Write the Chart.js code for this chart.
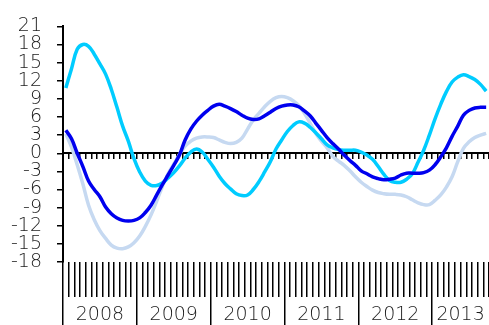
<!DOCTYPE html>
<html>
<head>
<meta charset="utf-8">
<script src="https://cdn.jsdelivr.net/npm/chart.js@4.4.1/dist/chart.umd.min.js"></script>
<style>
  html, body { margin: 0; padding: 0; background: #fff; }
  canvas { display: block; }
</style>
</head>
<body>
<canvas id="chart" width="489" height="325"></canvas>
<script>
// years on the axis and number of 4-week periods shown in each
const years = ['2008', '2009', '2010', '2011', '2012', '2013'];
const periodsPerYear = [13, 13, 13, 13, 13, 10];

// y axis ticks
const yMin = -18;
const yMax = 21;
const yStep = 3;

// series values, one per period
const darkBlue = [
  3.8, 2.4, 0.0, -2.2, -4.6, -6.0, -7.2, -8.9, -10.0, -10.7, -11.1, -11.2, -11.1,
  -10.7, -9.8, -8.6, -6.9, -5.2, -3.6, -2.0, -0.3, 2.2, 4.0, 5.3, 6.3, 7.1,
  7.8, 8.1, 7.8, 7.4, 6.9, 6.3, 5.8, 5.6, 5.7, 6.2, 6.8, 7.4, 7.8,
  8.0, 8.0, 7.7, 7.0, 6.2, 5.0, 3.8, 2.6, 1.6, 0.7, -0.3, -1.2, -2.0,
  -2.9, -3.4, -3.9, -4.2, -4.4, -4.3, -4.1, -3.6, -3.3, -3.3, -3.3, -3.2, -2.8,
  -1.9, -0.6, 0.9, 2.8, 4.5, 6.3, 7.1, 7.5, 7.6, 7.6
];
const cyan = [
  10.8, 14.0, 17.2, 18.0, 17.7, 16.4, 14.8, 13.1, 10.6, 7.6, 4.5, 2.0, -0.9,
  -3.1, -4.6, -5.3, -5.35, -4.9, -4.1, -3.2, -2.1, -0.8, 0.2, 0.7, 0.2, -1.0,
  -2.3, -3.8, -5.0, -5.9, -6.7, -7.0, -6.9, -6.0, -4.7, -3.1, -1.4, 0.7, 2.2,
  3.6, 4.6, 5.2, 5.0, 4.3, 3.4, 2.4, 1.4, 0.9, 0.6, 0.5, 0.5, 0.5,
  0.2, -0.3, -1.0, -2.2, -3.5, -4.5, -4.8, -4.8, -4.3, -3.4, -1.5, 0.5, 3.0,
  5.7, 8.1, 10.2, 11.8, 12.6, 13.0, 12.7, 12.2, 11.4, 10.3
];
const lightBlue = [
  3.2, 1.0, -1.9, -5.1, -8.6, -11.0, -12.8, -14.1, -15.2, -15.7, -15.8, -15.5, -14.8,
  -13.7, -12.1, -10.2, -7.9, -5.5, -3.4, -1.8, -0.2, 1.2, 2.0, 2.5, 2.7, 2.7,
  2.6, 2.2, 1.8, 1.6, 1.8, 2.5, 4.0, 5.5, 6.6, 7.7, 8.6, 9.2, 9.4,
  9.2, 8.7, 7.9, 6.6, 5.0, 3.3, 2.0, 0.9, -0.5, -1.3, -2.0, -2.9, -3.9,
  -4.8, -5.5, -6.1, -6.5, -6.7, -6.8, -6.8, -6.9, -7.2, -7.7, -8.2, -8.5, -8.5,
  -7.8, -6.9, -5.6, -3.9, -1.4, 0.8, 1.9, 2.6, 3.0, 3.3
];

// period labels, year boundaries and year label positions
const labels = [];
const yearBounds = [];
const yearMids = [];
let count = 0;
years.forEach((yr, i) => {
  yearBounds.push(count);
  yearMids.push(count + periodsPerYear[i] / 2);
  for (let p = 1; p <= periodsPerYear[i]; p++) {
    labels.push(yr + ' P' + p);
  }
  count += periodsPerYear[i];
});

Chart.defaults.font.family = "'DejaVu Sans', sans-serif";
Chart.defaults.font.size = 19;
Chart.defaults.font.weight = '300';
Chart.defaults.color = '#1a1a1a';

const ctx = document.getElementById('chart').getContext('2d');
const chart = new Chart(ctx, {
  type: 'line',
  data: {
    labels: labels,
    datasets: [
      { data: darkBlue, borderColor: '#0000ee', borderWidth: 3.5 },
      { data: cyan, borderColor: '#00ccff', borderWidth: 3.5 },
      { data: lightBlue, borderColor: '#c6d9f1', borderWidth: 3.5 },
    ],
  },
  options: {
    responsive: false,
    animation: false,
    devicePixelRatio: 1,
    layout: { padding: { top: 19, right: 0, bottom: 0, left: 0 } },
    elements: {
      point: { radius: 0 },
      line: { tension: 0.4, fill: false },
    },
    plugins: {
      legend: { display: false },
      tooltip: { enabled: false },
    },
    scales: {
      y: {
        min: yMin,
        max: yMax,
        ticks: { stepSize: yStep, padding: 15, autoSkip: false },
        grid: { drawOnChartArea: false, tickLength: 6, color: '#000', lineWidth: 1.5 },
        border: { color: '#000', width: 2 },
        afterFit: (scale) => { scale.width = 63; },
      },
      x: {
        type: 'category',
        offset: true,
        ticks: { display: false },
        grid: { offset: true, drawOnChartArea: false, tickLength: 35, color: '#000', lineWidth: 1.5 },
        border: { display: false },
        afterFit: (scale) => { scale.height = 35; },
      },
      xYears: {
        axis: 'x',
        type: 'linear',
        position: 'bottom',
        weight: 1,
        min: 0,
        max: count,
        afterBuildTicks: (scale) => {
          scale.ticks = yearBounds.concat(yearMids).sort((a, b) => a - b).map((v) => ({ value: v }));
        },
        ticks: {
          autoSkip: false,
          maxRotation: 0,
          padding: -21,
          callback: (value) => {
            const i = yearMids.indexOf(value);
            return i >= 0 ? years[i] : '';
          },
        },
        grid: {
          drawOnChartArea: false,
          tickLength: 28,
          lineWidth: 1.5,
          color: (c) => (yearBounds.includes(c.tick.value) ? '#000' : 'rgba(0,0,0,0)'),
        },
        border: { display: false },
        afterFit: (scale) => { scale.height = 28; },
      },
      xZero: {
        axis: 'x',
        type: 'category',
        position: { y: 0 },
        offset: true,
        ticks: { display: false },
        grid: { offset: true, drawOnChartArea: false, tickLength: 5, color: '#000', lineWidth: 1.5 },
        border: { color: '#000', width: 2 },
      },
    },
  },
});
</script>
</body>
</html>
